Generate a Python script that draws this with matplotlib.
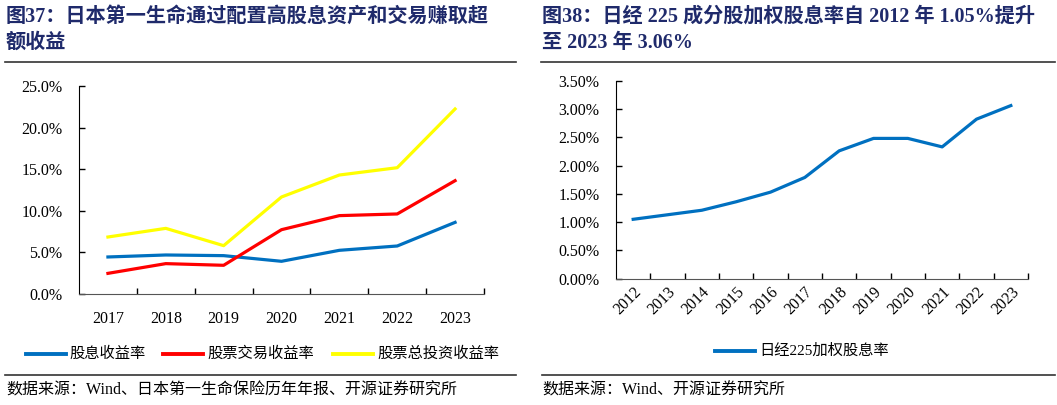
import matplotlib
matplotlib.use('Agg')
import matplotlib.pyplot as plt
import numpy as np
from matplotlib.lines import Line2D

plt.rcParams['font.family'] = ['Liberation Serif', 'Noto Sans CJK SC']

# 图37 数据
years_l = ['2017', '2018', '2019', '2020', '2021', '2022', '2023']
div_yield = [4.45, 4.69, 4.61, 3.93, 5.25, 5.77, 8.61]
trade_yield = [2.48, 3.65, 3.45, 7.73, 9.42, 9.62, 13.62]
total_yield = [6.85, 7.89, 5.81, 11.66, 14.30, 15.18, 22.24]
names_l = ['股息收益率', '股票交易收益率', '股票总投资收益率']
colors_l = ['#0070C0', '#FF0000', '#FFFF00']

# 图38 数据
years_r = ['2012', '2013', '2014', '2015', '2016', '2017',
           '2018', '2019', '2020', '2021', '2022', '2023']
nikkei_yield = [1.05, 1.13, 1.21, 1.36, 1.53, 1.79, 2.26, 2.48, 2.48, 2.33, 2.82, 3.06]
name_r = '日经225加权股息率'

W, H = 1057, 405
fig = plt.figure(figsize=(W / 100, H / 100), dpi=100)

title_color = '#1F2A6B'
cjk = ['Liberation Serif', 'Noto Sans CJK SC']


def px(x, y):
    return x / W, 1 - y / H


def style_axis(ax, n):
    ax.set_xlim(-0.5, n - 0.5)
    ax.set_xticks(np.arange(n))
    ax.set_xticks(np.arange(n) + 0.5, minor=True)
    ax.tick_params(axis='x', which='major', length=0)
    ax.tick_params(axis='x', which='minor', direction='in', length=4, width=1)
    ax.tick_params(axis='y', direction='in', length=4, width=1, labelsize=11.5, pad=12)
    for s in ['top', 'right']:
        ax.spines[s].set_visible(False)
    ax.spines['left'].set_color('black')
    ax.spines['bottom'].set_color('#555555')


# ---- 左图 ----
axl = fig.add_axes([79 / W, 1 - 294 / H, 405 / W, 208 / H])
xl = np.arange(len(years_l))
for vals, c, nm in zip([div_yield, trade_yield, total_yield], colors_l, names_l):
    axl.plot(xl, vals, color=c, lw=2.3, label=nm)
axl.set_ylim(0, 25)
axl.set_yticks(np.arange(0, 26, 5))
axl.set_yticklabels([f'{v:.1f}%' for v in np.arange(0, 26, 5)])
style_axis(axl, len(years_l))
axl.set_xticklabels(years_l, fontsize=11.5)
axl.tick_params(axis='x', which='major', pad=12)

# ---- 右图 ----
axr = fig.add_axes([616 / W, 1 - 278.7 / H, 412 / W, 198 / H])
xr = np.arange(len(years_r))
axr.plot(xr, nikkei_yield, color='#0070C0', lw=2.3, label=name_r)
axr.set_ylim(0, 3.5)
axr.set_yticks(np.arange(0, 3.51, 0.5))
axr.set_yticklabels([f'{v:.2f}%' for v in np.arange(0, 3.51, 0.5)])
style_axis(axr, len(years_r))
axr.set_xticklabels(years_r, fontsize=11.5, rotation=45, ha='right', rotation_mode='anchor')
axr.tick_params(axis='x', which='major', pad=4)

# ---- 标题 ----
fig.text(*px(6, 17), '图37：日本第一生命通过配置高股息资产和交易赚取超', fontsize=14.5,
         fontweight='bold', color=title_color, va='center', ha='left', family=cjk)
fig.text(*px(6, 43), '额收益', fontsize=14.5, fontweight='bold', color=title_color,
         va='center', ha='left', family=cjk)
fig.text(*px(542, 17), '图38：日经 225 成分股加权股息率自 2012 年 1.05%提升', fontsize=14.5,
         fontweight='bold', color=title_color, va='center', ha='left', family=cjk)
fig.text(*px(542, 43), '至 2023 年 3.06%', fontsize=14.5, fontweight='bold', color=title_color,
         va='center', ha='left', family=cjk)

# ---- 横线 ----
for x0, x1, y in [(5, 516, 62), (541, 1055, 62), (5, 516, 375), (542, 1055, 375)]:
    fig.add_artist(Line2D([x0 / W, x1 / W], [1 - y / H, 1 - y / H], color='#333333', lw=1.2))

# ---- 图例 ----
leg_items_l = [(26, 66, 69), (163, 203, 207), (333, 373, 377)]
for (a, b, t), c, nm in zip(leg_items_l, colors_l, names_l):
    fig.add_artist(Line2D([a / W, b / W], [1 - 354 / H] * 2, color=c, lw=2.8))
    fig.text(*px(t, 354), nm, fontsize=11, va='center', ha='left', family=cjk)
fig.add_artist(Line2D([715 / W, 755 / W], [1 - 351 / H] * 2, color='#0070C0', lw=2.8))
fig.text(*px(759, 351), name_r, fontsize=11, va='center', ha='left', family=cjk)

# ---- 数据来源 ----
fig.text(*px(6, 391), '数据来源：Wind、日本第一生命保险历年年报、开源证券研究所', fontsize=11.5,
         va='center', ha='left', family=cjk)
fig.text(*px(542, 391), '数据来源：Wind、开源证券研究所', fontsize=11.5,
         va='center', ha='left', family=cjk)

fig.savefig('out.png', dpi=100)
